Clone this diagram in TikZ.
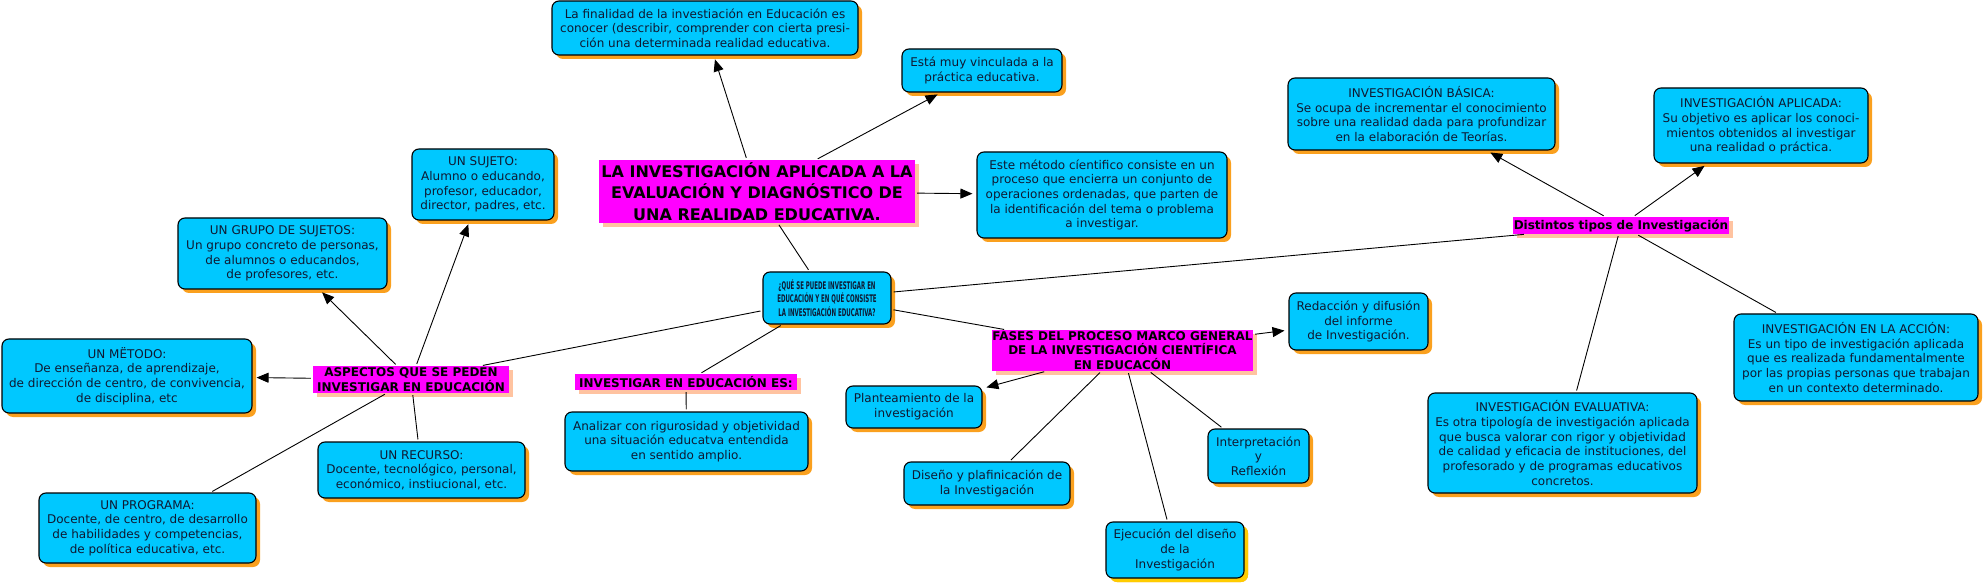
\documentclass[tikz,border=0pt]{standalone}
\usepackage{fontspec}
\setmainfont{DejaVu Sans}
\newfontfamily\condfont[FakeStretch=0.52]{DejaVu Sans}
\usetikzlibrary{arrows.meta,shadows}

\definecolor{boxc}{RGB}{0,200,255}
\definecolor{shado}{RGB}{250,160,30}
\definecolor{shadg}{RGB}{255,204,0}
\definecolor{magc}{RGB}{255,0,255}
\definecolor{shadm}{RGB}{255,195,160}
\definecolor{txtc}{RGB}{15,25,50}

\tikzset{
  cbox/.style={draw=black, line width=1.1pt, fill=boxc, rounded corners=7pt,
    align=center, inner sep=0pt, text=txtc, font=\fontsize{12}{14.7}\selectfont,
    drop shadow={shadow xshift=4pt, shadow yshift=-4pt, fill=shado, opacity=1}},
  gbox/.style={cbox, drop shadow={shadow xshift=4pt, shadow yshift=-4pt, fill=shadg, opacity=1}},
  mbox/.style={fill=magc, align=center, inner sep=0pt, text=black,
    font=\bfseries\fontsize{12}{14.5}\selectfont,
    drop shadow={shadow xshift=4pt, shadow yshift=-4pt, fill=shadm, opacity=1}},
  conn/.style={line width=0.9pt, shorten <=2pt, shorten >=2pt},
  arr/.style={line width=0.9pt, shorten <=2pt, shorten >=4pt, -{Triangle[length=12pt,width=10pt]}},
}

\begin{document}
\begin{tikzpicture}[x=1pt,y=-1pt]
\fill[white] (0,0) rectangle (1984,585);
\useasboundingbox (0,0) rectangle (1984,585);

% central
\node[mbox, minimum width=316pt, minimum height=63pt, font=\bfseries\fontsize{16}{21.5}\selectfont] (main) at (757,191.5)
  {LA INVESTIGACIÓN APLICADA A LA\\EVALUACIÓN Y DIAGNÓSTICO DE\\UNA REALIDAD EDUCATIVA.};
\node[cbox, minimum width=306pt, minimum height=54pt] (fin) at (705,28)
  {La finalidad de la investiación en Educación es\\conocer (describir, comprender con cierta presi-\\ción una determinada realidad educativa.};
\node[cbox, minimum width=160pt, minimum height=43pt] (esta) at (982,70.5)
  {Está muy vinculada a la\\práctica educativa.};
\node[cbox, minimum width=250pt, minimum height=86pt] (metodo) at (1102,195)
  {Este método cíentifico consiste en un\\proceso que encierra un conjunto de\\operaciones ordenadas, que parten de\\la identificación del tema o problema\\a investigar.};
\node[cbox, minimum width=128pt, minimum height=52pt, font=\condfont\bfseries\fontsize{10.5}{13.5}\selectfont] (que) at (827,298)
  {¿QUÉ SE PUEDE INVESTIGAR EN\\EDUCACIÓN Y EN QUÉ CONSISTE\\LA INVESTIGACIÓN EDUCATIVA?};

% right: tipos
\node[mbox, minimum width=216pt, minimum height=17pt] (tipos) at (1621,225.5)
  {Distintos tipos de Investigación};
\node[cbox, minimum width=267pt, minimum height=72pt] (basica) at (1421.5,114)
  {INVESTIGACIÓN BÁSICA:\\Se ocupa de incrementar el conocimiento\\sobre una realidad dada para profundizar\\en la elaboración de Teorías.};
\node[cbox, minimum width=214pt, minimum height=75pt] (aplicada) at (1761,125.5)
  {INVESTIGACIÓN APLICADA:\\Su objetivo es aplicar los conoci-\\mientos obtenidos al investigar\\una realidad o práctica.};
\node[cbox, minimum width=244pt, minimum height=87pt] (accion) at (1856,357.5)
  {INVESTIGACIÓN EN LA ACCIÓN:\\Es un tipo de investigación aplicada\\que es realizada fundamentalmente\\por las propias personas que trabajan\\en un contexto determinado.};
\node[cbox, minimum width=269pt, minimum height=100pt] (evalua) at (1562.5,443)
  {INVESTIGACIÓN EVALUATIVA:\\Es otra tipología de investigación aplicada\\que busca valorar con rigor y objetividad\\de calidad y eficacia de instituciones, del\\profesorado y de programas educativos\\concretos.};

% fases
\node[mbox, minimum width=261pt, minimum height=41pt] (fases) at (1122.5,350.5)
  {FASES DEL PROCESO MARCO GENERAL\\DE LA INVESTIGACIÓN CIENTÍFICA\\EN EDUCACÓN};
\node[cbox, minimum width=139pt, minimum height=57pt] (redac) at (1358.5,321.5)
  {Redacción y difusión\\del informe\\de Investigación.};
\node[cbox, minimum width=101pt, minimum height=54pt] (interp) at (1258.5,456)
  {Interpretación\\y\\Reflexión};
\node[gbox, minimum width=138pt, minimum height=56pt] (ejec) at (1175,550)
  {Ejecución del diseño\\de la\\Investigación};
\node[cbox, minimum width=166pt, minimum height=43pt] (diseno) at (987,483.5)
  {Diseño y plafinicación de\\la Investigación};
\node[cbox, minimum width=136pt, minimum height=42pt] (plant) at (914,407)
  {Planteamiento de la\\investigación};

% investigar es
\node[mbox, minimum width=222pt, minimum height=16pt] (iee) at (686,382)
  {INVESTIGAR EN EDUCACIÓN ES:};
\node[cbox, minimum width=243pt, minimum height=59pt] (analizar) at (686.5,441.5)
  {Analizar con rigurosidad y objetividad\\una situación educatva entendida\\en sentido amplio.};

% aspectos
\node[mbox, minimum width=196pt, minimum height=27pt] (aspectos) at (411,379.5)
  {ASPECTOS QUE SE PEDEN\\INVESTIGAR EN EDUCACIÓN};
\node[cbox, minimum width=142pt, minimum height=71pt] (sujeto) at (483,184.5)
  {UN SUJETO:\\Alumno o educando,\\profesor, educador,\\director, padres, etc.};
\node[cbox, minimum width=209pt, minimum height=71pt] (grupo) at (282.5,253.5)
  {UN GRUPO DE SUJETOS:\\Un grupo concreto de personas,\\de alumnos o educandos,\\de profesores, etc.};
\node[cbox, minimum width=250pt, minimum height=74pt] (metodo2) at (127,376)
  {UN MËTODO:\\De enseñanza, de aprendizaje,\\de dirección de centro, de convivencia,\\de disciplina, etc};
\node[cbox, minimum width=207pt, minimum height=56pt] (recurso) at (421.5,470)
  {UN RECURSO:\\Docente, tecnológico, personal,\\económico, instiucional, etc.};
\node[cbox, minimum width=217pt, minimum height=70pt] (programa) at (147.5,528)
  {UN PROGRAMA:\\Docente, de centro, de desarrollo\\de habilidades y competencias,\\de política educativa, etc.};

% connectors
\draw[arr] (main) -- (fin);
\draw[arr] (main) -- (esta);
\draw[arr] (main) -- (metodo);
\draw[conn] (main) -- (que);
\draw[conn] (que) -- (aspectos);
\draw[conn] (que) -- (tipos);
\draw[conn] (que) -- (fases);
\draw[conn] (que) -- (iee);
\draw[conn] (iee) -- (analizar);
\draw[arr] (fases) -- (plant);
\draw[arr] (fases) -- (redac);
\draw[conn] (fases) -- (diseno);
\draw[conn] (fases) -- (ejec);
\draw[conn] (fases) -- (interp);
\draw[arr] (tipos) -- (basica);
\draw[arr] (tipos) -- (aplicada);
\draw[conn] (tipos) -- (evalua);
\draw[conn] (tipos) -- (accion);
\draw[arr] (aspectos) -- (grupo);
\draw[arr] (aspectos) -- (sujeto);
\draw[arr] (aspectos) -- (metodo2);
\draw[conn] (aspectos) -- (programa);
\draw[conn] (aspectos) -- (recurso);
\end{tikzpicture}
\end{document}
